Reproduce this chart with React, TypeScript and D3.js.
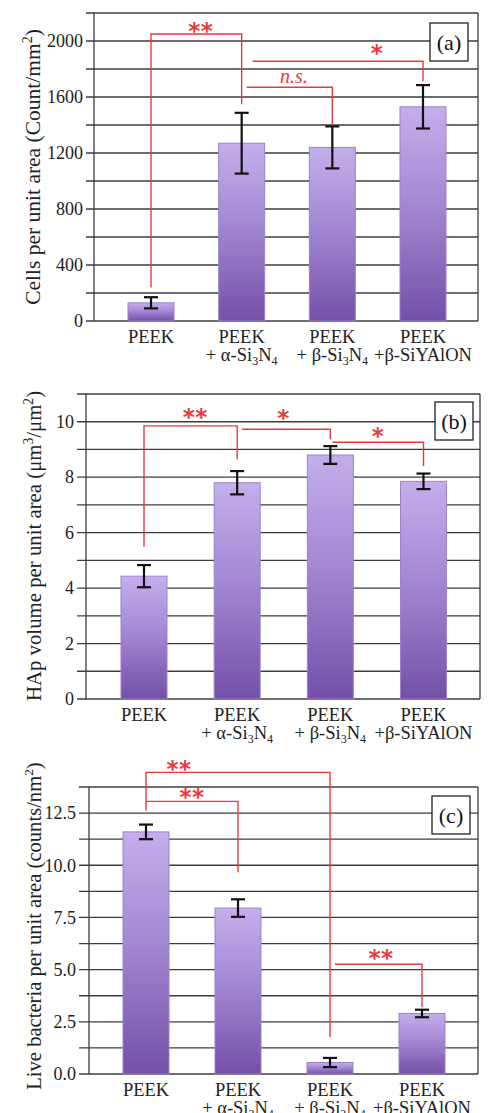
import React from "react";
import * as d3 from "d3";

// ---------- data ----------
const categoryTop = ["PEEK", "PEEK", "PEEK", "PEEK"];
const categoryBottom = ["", "+ α-Si_3N_4", "+ β-Si_3N_4", "+β-SiYAlON"];

const cellsMean = [130, 1270, 1240, 1530];
const cellsErr = [40, 217, 150, 155];
const cellsTitle = "Cells per unit area (Count/mm^2)";

const hapMean = [4.43, 7.8, 8.8, 7.85];
const hapErr = [0.4, 0.42, 0.32, 0.28];
const hapTitle = "HAp volume per unit area (μm^3/μm^2)";

const bactMean = [11.6, 7.95, 0.55, 2.9];
const bactErr = [0.35, 0.42, 0.22, 0.18];
const bactTitle = "Live bacteria per unit area (counts/nm^2)";

// brackets: from/to category, horizontal level, drop ends (data units), label
type Bracket = {
  from: number; to: number; level: number;
  leftEnd: number | null; rightEnd: number;
  label: string; labelAt: number; labelY: number; leftShift: number;
};
const cellsBrackets: Bracket[] = [
  { from: 0, to: 1, level: 2050, leftEnd: 240, rightEnd: 1548, label: "**", labelAt: 0.55, labelY: 2108, leftShift: 0 },
  { from: 1, to: 2, level: 1670, leftEnd: null, rightEnd: 1405, label: "n.s.", labelAt: 0.55, labelY: 1742, leftShift: 5 },
  { from: 1, to: 3, level: 1855, leftEnd: null, rightEnd: 1713, label: "*", labelAt: 0.73, labelY: 1950, leftShift: 11 },
];
const hapBrackets: Bracket[] = [
  { from: 0, to: 1, level: 9.85, leftEnd: 5.49, rightEnd: 8.65, label: "**", labelAt: 0.55, labelY: 10.34, leftShift: 0 },
  { from: 1, to: 2, level: 9.73, leftEnd: null, rightEnd: 9.37, label: "*", labelAt: 0.47, labelY: 10.31, leftShift: 5 },
  { from: 2, to: 3, level: 9.26, leftEnd: null, rightEnd: 8.4, label: "*", labelAt: 0.5, labelY: 9.66, leftShift: 2 },
];
const bactBrackets: Bracket[] = [
  { from: 0, to: 2, level: 14.45, leftEnd: 12.63, rightEnd: 1.77, label: "**", labelAt: 0.18, labelY: 14.83, leftShift: 0 },
  { from: 0, to: 1, level: 13.06, leftEnd: null, rightEnd: 9.67, label: "**", labelAt: 0.5, labelY: 13.49, leftShift: 0 },
  { from: 2, to: 3, level: 5.26, leftEnd: null, rightEnd: 3.2, label: "**", labelAt: 0.53, labelY: 5.79, leftShift: 5 },
];

const panels = [
  {
    id: "a", mean: cellsMean, err: cellsErr, title: cellsTitle, brackets: cellsBrackets,
    max: 2200, gridStep: 200, tickMax: 2000, tickStep: 400, fmt: d3.format("d"),
    frame: { left: 94, right: 478, top: 13, bottom: 321 }, centers: [151, 423],
    box: { x: 430, y: 23 }, titleX: 40, titleY: 167, titleFs: 21.5, tickLen: 8,
  },
  {
    id: "b", mean: hapMean, err: hapErr, title: hapTitle, brackets: hapBrackets,
    max: 11, gridStep: 1, tickMax: 10, tickStep: 2, fmt: d3.format("d"),
    frame: { left: 86, right: 480, top: 394, bottom: 699 }, centers: [144, 423.5],
    box: { x: 435, y: 402 }, titleX: 41, titleY: 546, titleFs: 20.8, tickLen: 9,
  },
  {
    id: "c", mean: bactMean, err: bactErr, title: bactTitle, brackets: bactBrackets,
    max: 13.75, gridStep: 1.25, tickMax: 12.5, tickStep: 2.5, fmt: d3.format(".1f"),
    frame: { left: 89, right: 478, top: 787, bottom: 1074 }, centers: [146, 422],
    box: { x: 432, y: 796 }, titleX: 41, titleY: 926, titleFs: 20.6, tickLen: 10,
  },
];

const SERIF = "Liberation Serif, Tinos, Times New Roman, DejaVu Serif, serif";
const RED = "#e8393b";
const GRID = "#3c3c3c";

function rich(text: string, fs: number) {
  const parts = text.split(/([_^][0-9])/);
  const out: any[] = [];
  let shift = 0;
  parts.forEach((p, i) => {
    if (!p) return;
    if (p[0] === "_" || p[0] === "^") {
      const d = p[0] === "_" ? fs * 0.22 : -fs * 0.38;
      out.push(<tspan key={i} dy={d - shift} fontSize={fs * 0.65}>{p[1]}</tspan>);
      shift = d;
    } else {
      out.push(<tspan key={i} dy={-shift}>{p}</tspan>);
      shift = 0;
    }
  });
  return out;
}

function Panel({ p }: { p: any }) {
  const { frame } = p;
  const y = d3.scaleLinear().domain([0, p.max]).range([frame.bottom, frame.top]);
  const x = d3.scalePoint<number>().domain(d3.range(4)).range(p.centers);
  const grid = d3.range(0, p.max + 1e-9, p.gridStep);
  const ticks = d3.range(0, p.tickMax + 1e-9, p.tickStep);
  const bw = 46;
  return (
    <g>
      {grid.map((g: number, i: number) => (
        <line key={"g" + i} x1={frame.left - p.tickLen} x2={frame.right} y1={y(g)} y2={y(g)}
          stroke={GRID} strokeWidth={1.3} />
      ))}
      <line x1={frame.left} x2={frame.left} y1={frame.top} y2={frame.bottom} stroke={GRID} strokeWidth={1.3} />
      <line x1={frame.right} x2={frame.right} y1={frame.top} y2={frame.bottom} stroke={GRID} strokeWidth={1.3} />
      {ticks.map((t: number, i: number) => (
        <text key={"t" + i} x={frame.left - p.tickLen - 3} y={y(t)} dy="0.35em" textAnchor="end"
          style={{ fontFamily: SERIF }} fontSize={18} fill="#222">{p.fmt(t)}</text>
      ))}
      {p.mean.map((m: number, i: number) => (
        <rect key={"b" + i} x={(x(i) as number) - bw / 2} y={y(m)} width={bw} height={y(0) - y(m)}
          fill="url(#barGrad)" stroke="#9b82c9" strokeWidth={1} />
      ))}
      {p.mean.map((m: number, i: number) => {
        const cx = x(i) as number;
        const hi = y(m + p.err[i]);
        const lo = y(m - p.err[i]);
        return (
          <g key={"e" + i} stroke="#111" strokeWidth={2.2}>
            <line x1={cx} x2={cx} y1={hi} y2={lo} />
            <line x1={cx - 7} x2={cx + 7} y1={hi} y2={hi} />
            <line x1={cx - 7} x2={cx + 7} y1={lo} y2={lo} />
          </g>
        );
      })}
      {categoryTop.map((c, i) => (
        <text key={"c" + i} x={x(i) as number} y={frame.bottom + 22} textAnchor="middle"
          style={{ fontFamily: SERIF }} fontSize={18.5} fill="#222">{c}</text>
      ))}
      {categoryBottom.map((c, i) => c ? (
        <text key={"d" + i} x={x(i) as number} y={frame.bottom + 40} textAnchor="middle"
          style={{ fontFamily: SERIF }} fontSize={18.5} fill="#222">{rich(c, 18.5)}</text>
      ) : null)}
      {p.brackets.map((b: Bracket, i: number) => {
        const x0 = (x(b.from) as number) + b.leftShift;
        const x1 = x(b.to) as number;
        const yl = y(b.level);
        let d = "";
        if (b.leftEnd !== null) d += `M${x0},${y(b.leftEnd)}L${x0},${yl}`;
        else d += `M${x0},${yl}`;
        d += `L${x1},${yl}L${x1},${y(b.rightEnd)}`;
        const lx = x0 + (x1 - x0) * b.labelAt;
        const isStar = b.label.startsWith("*");
        return (
          <g key={"k" + i}>
            <path d={d} fill="none" stroke={RED} strokeWidth={1.4} />
            {isStar ? (
              <text x={lx} y={y(b.labelY) + 13} textAnchor="middle" style={{ fontFamily: "DejaVu Sans, sans-serif" }}
                fontSize={23} fontWeight="bold" fill={RED} letterSpacing={0.5}>{b.label}</text>
            ) : (
              <text x={lx} y={y(b.labelY) + 6} textAnchor="middle" style={{ fontFamily: SERIF }} fontStyle="italic"
                fontSize={20} fill={RED}>{b.label}</text>
            )}
          </g>
        );
      })}
      <rect x={p.box.x} y={p.box.y} width={38} height={38} fill="#fff" stroke="#222" strokeWidth={1.3} />
      <text x={p.box.x + 19} y={p.box.y + 19} dy="0.35em" textAnchor="middle" style={{ fontFamily: SERIF }}
        fontSize={22} fill="#111">({p.id})</text>
      <text transform={`translate(${p.titleX},${p.titleY}) rotate(-90)`} textAnchor="middle"
        style={{ fontFamily: SERIF }} fontSize={p.titleFs} fill="#222">{rich(p.title, p.titleFs)}</text>
    </g>
  );
}

export default function App() {
  return (
    <svg width={488} height={1113} style={{ position: "absolute", left: 0, top: 0, background: "#fff" }}>
      <defs>
        <linearGradient id="barGrad" x1="0" y1="0" x2="0" y2="1">
          <stop offset="0%" stopColor="#c4aeec" />
          <stop offset="45%" stopColor="#a488d3" />
          <stop offset="100%" stopColor="#7450a9" />
        </linearGradient>
      </defs>
      <rect x={0} y={0} width={488} height={1113} fill="#fff" />
      {panels.map((p) => <Panel key={p.id} p={p} />)}
    </svg>
  );
}
